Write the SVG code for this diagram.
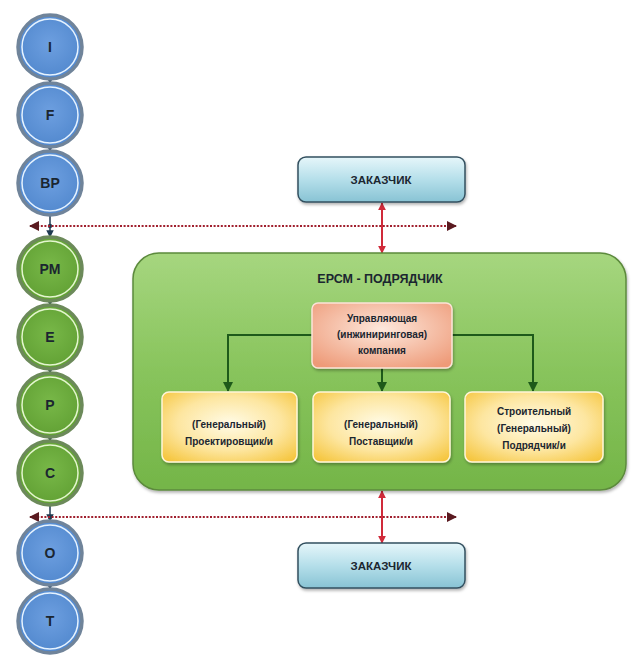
<svg xmlns="http://www.w3.org/2000/svg" width="635" height="656" viewBox="0 0 635 656">
<defs>
<radialGradient id="gBlue" cx="50%" cy="45%" r="60%"><stop offset="0" stop-color="#6d9fe0"/><stop offset="1" stop-color="#4f86cc"/></radialGradient>
<radialGradient id="gGreen" cx="50%" cy="45%" r="60%"><stop offset="0" stop-color="#78b848"/><stop offset="1" stop-color="#5f9e32"/></radialGradient>
<linearGradient id="gBig" x1="0" y1="0" x2="0" y2="1"><stop offset="0" stop-color="#a6d67f"/><stop offset="0.5" stop-color="#88c45c"/><stop offset="1" stop-color="#74b548"/></linearGradient>
<linearGradient id="gCust" x1="0" y1="0" x2="0" y2="1"><stop offset="0" stop-color="#e6f6fa"/><stop offset="0.5" stop-color="#b5dfea"/><stop offset="1" stop-color="#88c3d4"/></linearGradient>
<radialGradient id="gMgmt" cx="50%" cy="40%" r="70%"><stop offset="0" stop-color="#fde8dc"/><stop offset="1" stop-color="#ee9a78"/></radialGradient>
<radialGradient id="gYel" cx="50%" cy="45%" r="70%"><stop offset="0" stop-color="#fffbe6"/><stop offset="0.55" stop-color="#fde6a0"/><stop offset="1" stop-color="#f5c53c"/></radialGradient>
<marker id="aDark" viewBox="0 0 10 10" refX="9" refY="5" markerWidth="5" markerHeight="5" orient="auto-start-reverse"><path d="M0,0 L10,5 L0,10 z" fill="#1f3a50"/></marker>
<marker id="aGreen" viewBox="0 0 10 10" refX="9" refY="5" markerWidth="5" markerHeight="5" orient="auto"><path d="M0,0 L10,5 L0,10 z" fill="#1e5a1a"/></marker>
<marker id="aRed" viewBox="0 0 10 10" refX="9" refY="5" markerWidth="4" markerHeight="4" orient="auto-start-reverse"><path d="M0,0 L10,5 L0,10 z" fill="#d02a3a"/></marker>
<marker id="aDash" viewBox="0 0 10 10" refX="9" refY="5" markerWidth="5" markerHeight="5" orient="auto-start-reverse"><path d="M0,0 L10,5 L0,10 z" fill="#5a1a20"/></marker>
<filter id="sh" x="-10%" y="-10%" width="120%" height="130%"><feDropShadow dx="1" dy="2" stdDeviation="1.5" flood-color="#000" flood-opacity="0.3"/></filter>
<style>
.t{font-family:"Liberation Sans",Arial,sans-serif;font-weight:bold;fill:#1b2630;text-anchor:middle}
.cl{font-size:14px}
.bo{stroke:#70849a;stroke-width:3.5}
.go{stroke:#6c8a5a;stroke-width:3.5}
.bi{fill:none;stroke:#e6f3ff;stroke-width:1.5}
.gi{fill:none;stroke:#e4f6cf;stroke-width:1.5}
.sm{font-size:10px}
</style>
</defs>
<rect width="635" height="656" fill="#ffffff"/>

<g id="connectors">
<g stroke="#1f3a50" stroke-width="1.5" fill="none">
<line x1="50" y1="79" x2="50" y2="83" marker-end="url(#aDark)"/>
<line x1="50" y1="147" x2="50" y2="151" marker-end="url(#aDark)"/>
<line x1="50" y1="215" x2="50" y2="237" marker-end="url(#aDark)"/>
<line x1="50" y1="301" x2="50" y2="305" marker-end="url(#aDark)"/>
<line x1="50" y1="369" x2="50" y2="373" marker-end="url(#aDark)"/>
<line x1="50" y1="437" x2="50" y2="441" marker-end="url(#aDark)"/>
<line x1="50" y1="505" x2="50" y2="521" marker-end="url(#aDark)"/>
<line x1="50" y1="585" x2="50" y2="589" marker-end="url(#aDark)"/>
</g>
<circle cx="50" cy="226" r="2.2" fill="#1f3a50"/>
<circle cx="50" cy="517" r="2.2" fill="#1f3a50"/>
<g stroke="#a0202e" stroke-width="2" stroke-dasharray="2 1.6" fill="none">
<line x1="30" y1="226" x2="456" y2="226" marker-start="url(#aDash)" marker-end="url(#aDash)"/>
<line x1="30" y1="517" x2="456" y2="517" marker-start="url(#aDash)" marker-end="url(#aDash)"/>
</g>
<g stroke="#d02a3a" stroke-width="2" fill="none">
<line x1="382" y1="203" x2="382" y2="253" marker-start="url(#aRed)" marker-end="url(#aRed)"/>
<line x1="382" y1="491" x2="382" y2="543" marker-start="url(#aRed)" marker-end="url(#aRed)"/>
</g>
</g>

<g id="n-I"><circle cx="50" cy="47" r="32" fill="url(#gBlue)" class="bo"/><circle cx="50" cy="47" r="28" class="bi"/><text x="50" y="52" class="t cl">I</text></g>
<g id="n-F"><circle cx="50" cy="115" r="32" fill="url(#gBlue)" class="bo"/><circle cx="50" cy="115" r="28" class="bi"/><text x="50" y="120" class="t cl">F</text></g>
<g id="n-BP"><circle cx="50" cy="183" r="32" fill="url(#gBlue)" class="bo"/><circle cx="50" cy="183" r="28" class="bi"/><text x="50" y="188" class="t cl">BP</text></g>
<g id="n-PM"><circle cx="50" cy="269" r="32" fill="url(#gGreen)" class="go"/><circle cx="50" cy="269" r="28" class="gi"/><text x="50" y="274" class="t cl">PM</text></g>
<g id="n-E"><circle cx="50" cy="337" r="32" fill="url(#gGreen)" class="go"/><circle cx="50" cy="337" r="28" class="gi"/><text x="50" y="342" class="t cl">E</text></g>
<g id="n-P"><circle cx="50" cy="405" r="32" fill="url(#gGreen)" class="go"/><circle cx="50" cy="405" r="28" class="gi"/><text x="50" y="410" class="t cl">P</text></g>
<g id="n-C"><circle cx="50" cy="473" r="32" fill="url(#gGreen)" class="go"/><circle cx="50" cy="473" r="28" class="gi"/><text x="50" y="478" class="t cl">C</text></g>
<g id="n-O"><circle cx="50" cy="553" r="32" fill="url(#gBlue)" class="bo"/><circle cx="50" cy="553" r="28" class="bi"/><text x="50" y="558" class="t cl">O</text></g>
<g id="n-T"><circle cx="50" cy="621" r="32" fill="url(#gBlue)" class="bo"/><circle cx="50" cy="621" r="28" class="bi"/><text x="50" y="626" class="t cl">T</text></g>

<g id="n-cust-top"><rect x="298" y="157" width="167" height="45" rx="8" fill="url(#gCust)" stroke="#33505f" stroke-width="1.5" filter="url(#sh)"/><text x="381" y="184" class="t" font-size="11.5">ЗАКАЗЧИК</text></g>

<g id="n-epcm"><rect x="133" y="253" width="493" height="237" rx="26" fill="url(#gBig)" stroke="#5c8a3c" stroke-width="1.5" filter="url(#sh)"/><text x="380" y="283" class="t" font-size="12.5">ЕРСМ - ПОДРЯДЧИК</text></g>

<g id="epcm-links" stroke="#1e5a1a" stroke-width="2" fill="none">
<polyline points="312,335 228,335 228,391" marker-end="url(#aGreen)"/>
<polyline points="452,335 533,335 533,391" marker-end="url(#aGreen)"/>
<line x1="382" y1="368" x2="382" y2="391" marker-end="url(#aGreen)"/>
</g>

<g id="n-mgmt"><rect x="312" y="303" width="140" height="65" rx="6" fill="url(#gMgmt)" stroke="#fbe3d8" stroke-width="1.5" filter="url(#sh)"/>
<text class="t sm" x="382" y="322">Управляющая</text><text class="t sm" x="382" y="338">(инжиниринговая)</text><text class="t sm" x="382" y="354">компания</text></g>

<g id="n-design"><rect x="162" y="392" width="135" height="70" rx="7" fill="url(#gYel)" stroke="#fff6d8" stroke-width="1.5" filter="url(#sh)"/>
<text class="t sm" x="229" y="428">(Генеральный)</text><text class="t sm" x="229" y="445">Проектировщик/и</text></g>
<g id="n-supply"><rect x="313" y="392" width="137" height="70" rx="7" fill="url(#gYel)" stroke="#fff6d8" stroke-width="1.5" filter="url(#sh)"/>
<text class="t sm" x="381" y="428">(Генеральный)</text><text class="t sm" x="381" y="445">Поставщик/и</text></g>
<g id="n-constr"><rect x="465" y="392" width="138" height="70" rx="7" fill="url(#gYel)" stroke="#fff6d8" stroke-width="1.5" filter="url(#sh)"/>
<text class="t sm" x="534" y="415">Строительный</text><text class="t sm" x="534" y="432">(Генеральный)</text><text class="t sm" x="534" y="449">Подрядчик/и</text></g>

<g id="n-cust-bot"><rect x="298" y="543" width="167" height="45" rx="8" fill="url(#gCust)" stroke="#33505f" stroke-width="1.5" filter="url(#sh)"/><text x="381" y="570" class="t" font-size="11.5">ЗАКАЗЧИК</text></g>
</svg>
